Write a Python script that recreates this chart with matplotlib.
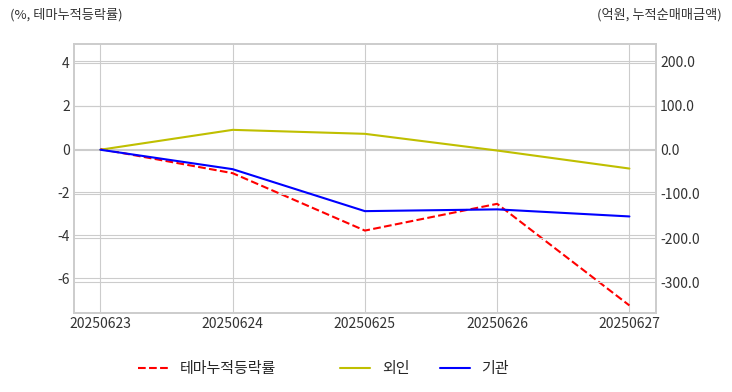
import matplotlib
matplotlib.use("Agg")
import matplotlib.pyplot as plt

plt.style.use("seaborn-v0_8-whitegrid")
plt.rcParams['font.family'] = ['Noto Sans CJK KR', 'DejaVu Sans']
plt.rcParams['axes.unicode_minus'] = False

dates = ['20250623', '20250624', '20250625', '20250626', '20250627']
theme_rate = [0.0, -1.12, -3.78, -2.54, -7.25]   # %, 테마누적등락률
foreign = [0.0, 45.0, 36.0, -1.8, -42.6]          # 억원, 외인
institution = [0.0, -44.0, -139.0, -135.0, -151.0]  # 억원, 기관

fig = plt.figure(figsize=(7.32, 3.92), dpi=100)
ax1 = fig.add_axes([0.101, 0.2015, 0.795, 0.687])
ax2 = ax1.twinx()

l1, = ax1.plot(dates, theme_rate, 'r--', lw=1.5, label='테마누적등락률')
l2, = ax2.plot(dates, foreign, 'y-', lw=1.5, label='외인')
l3, = ax2.plot(dates, institution, 'b-', lw=1.5, label='기관')

ax1.set_xlim(-0.2, 4.2)
ax1.set_ylim(-7.6, 4.88)
ax2.set_ylim(-369.6, 240)
ax1.set_yticks([-6, -4, -2, 0, 2, 4])
ax2.set_yticks([-300, -200, -100, 0, 100, 200])
ax2.set_yticklabels(['%.1f' % v for v in [-300, -200, -100, 0, 100, 200]])

for ax in (ax1, ax2):
    ax.tick_params(labelsize=10, labelcolor='#333333', pad=3)
    for s in ax.spines.values():
        s.set_visible(True)
        s.set_color('#cccccc')
        s.set_linewidth(1.2)

fig.text(10 / 732, 1 - 15 / 392, '(%, 테마누적등락률)', fontsize=9.5, color='#333333',
         ha='left', va='center')
fig.text(722 / 732, 1 - 15 / 392, '(억원, 누적순매매금액)', fontsize=9.5, color='#333333',
         ha='right', va='center')

fig.legend(handles=[l1], loc='center left', bbox_to_anchor=(124.5 / 732, 0.059),
           frameon=False, fontsize=10.8)
fig.legend(handles=[l2, l3], loc='center left', bbox_to_anchor=(326.5 / 732, 0.059),
           frameon=False, fontsize=10.8, ncol=2)

fig.savefig('out.png', dpi=100)
